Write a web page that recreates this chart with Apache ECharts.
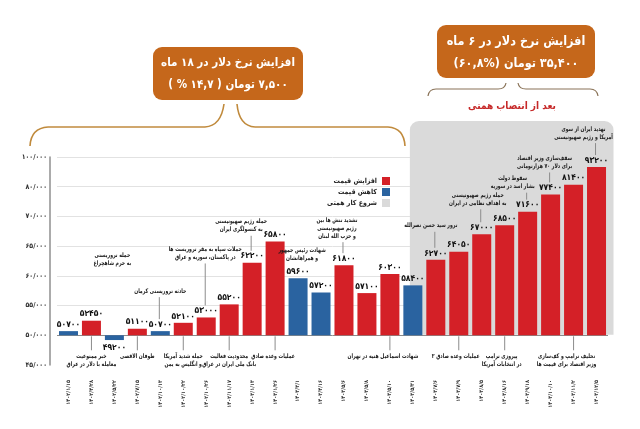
<!DOCTYPE html>
<html>
<head>
<meta charset="utf-8">
<script src="https://cdn.jsdelivr.net/npm/echarts@6/dist/echarts.min.js"></script>
<style>
html,body{margin:0;padding:0;background:#fff;}
#c{width:640px;height:429px;}
</style>
</head>
<body>
<div id="c"></div>
<script>
// ---------- data ----------
const dates = ['۱۴۰۲/۱/۱۵','۱۴۰۲/۴/۲۸','۱۴۰۲/۵/۲۲','۱۴۰۲/۷/۱۵','۱۴۰۲/۱۰/۱۳','۱۴۰۲/۱۰/۲۲','۱۴۰۲/۱۰/۲۶','۱۴۰۲/۱۱/۱۷','۱۴۰۳/۱/۱۳','۱۴۰۳/۱/۲۶','۱۴۰۳/۳/۱','۱۴۰۳/۴/۱۶','۱۴۰۳/۵/۶','۱۴۰۳/۵/۸','۱۴۰۳/۵/۱۰','۱۴۰۳/۵/۳۱','۱۴۰۳/۷/۶','۱۴۰۳/۷/۹','۱۴۰۳/۸/۵','۱۴۰۳/۸/۱۶','۱۴۰۳/۹/۱۸','۱۴۰۳/۱۰/۱۰','۱۴۰۳/۱۱/۲','۱۴۰۳/۱۲/۵'];
const rates = [50700,52450,49200,51100,50700,52100,53000,55200,62200,65800,59600,57200,61800,57100,60300,58400,62700,64050,67000,68500,71600,77400,81400,93200];
const trend = ['down','up','down','up','down','up','up','up','up','up','down','down','up','up','up','down','up','up','up','up','up','up','up','up'];
const yTickLabels = ['۴۵/۰۰۰','۵۰/۰۰۰','۵۵/۰۰۰','۶۰/۰۰۰','۶۵/۰۰۰','۷۰/۰۰۰','۸۰/۰۰۰','۱۰۰/۰۰۰'];
const legendNames = ['افزایش قیمت','کاهش قیمت','شروع کار همتی'];
const events = [
  [1,'خبر ممنوعیت\nمعامله با دلار در عراق','down'],
  [2,'حمله تروریستی\nبه حرم شاهچراغ','up'],
  [3,'طوفان الاقصی','down'],
  [4,'حادثه تروریستی کرمان','up'],
  [5,'حمله شدید آمریکا\nو انگلیس به یمن','down'],
  [6,'حملات سپاه به مقر تروریست ها\nدر پاکستان، سوریه و عراق','up'],
  [7,'محدودیت فعالیت\nبانک ملی ایران در عراق','down'],
  [8,'حمله رژیم صهیونیستی\nبه کنسولگری ایران','up'],
  [9,'عملیات وعده صادق','down'],
  [10,'شهادت رئیس جمهور\nو همراهانشان','up'],
  [12,'تشدید تنش ها بین\nرژیم صهیونیستی\nو حزب الله لبنان','up'],
  [14,'شهادت اسماعیل هنیه در تهران','down'],
  [16,'ترور سید حسن نصرالله','up'],
  [17,'عملیات وعده صادق ۲','down'],
  [18,'حمله رژیم صهیونیستی\nبه اهداف نظامی در ایران','up'],
  [19,'پیروزی ترامپ\nدر انتخابات آمریکا','down'],
  [20,'سقوط دولت\nبشار اسد در سوریه','up'],
  [21,'سقف‌سازی وزیر اقتصاد\nبرای دلار ۷۰ هزارتومانی','up'],
  [22,'تحلیف ترامپ و کف‌سازی\nوزیر اقتصاد برای قیمت ها','down'],
  [23,'تهدید ایران از سوی\nآمریکا و رژیم صهیونیستی','up']
];
const box1Lines = ['افزایش نرخ دلار در ۱۸ ماه','۷,۵۰۰ تومان ( ۱۴,۷ % )'];
const box2Lines = ['افزایش نرخ دلار در ۶ ماه','۳۵,۴۰۰ تومان (%۶۰,۸)'];
const panelTitle = 'بعد از انتصاب همتی';

// ---------- layout (not data) ----------
// per event: [lift above bar top (px), draw connector, text x shift]
const eventLayout = {
  2:[68,false,-2], 4:[36,true,0], 6:[56,true,-1], 8:[29,true,-11], 10:[16,false,4],
  12:[25,true,-7], 16:[30,true,-5], 18:[27,true,-4], 20:[21,true,-15], 21:[24,true,-6], 23:[26,true,-13],
  1:[0,true,0], 3:[0,true,0], 5:[0,true,0], 7:[0,true,0], 9:[0,true,-2], 14:[0,true,-7], 17:[0,true,-3], 19:[0,true,-3], 22:[0,true,-7]
};

const FONT = '"DejaVu Sans Condensed", "DejaVu Sans", sans-serif';
const upColor = '#d42027', downColor = '#2a63a0', panelColor = '#dadada', boxColor = '#c5671b';

const toFa = s => String(s).replace(/\d/g, d => '۰۱۲۳۴۵۶۷۸۹'[d]);
const rtl = s => s.split('\n').map(l => '\u202B' + l + '\u202C').join('\n');
// broken value axis: 45k..70k linear, 70k..80k and 80k..100k each squeezed into one tick step
function toAxis(v){
  if (v <= 70000) return v - 50000;
  if (v <= 80000) return 20000 + (v - 70000) / 2;
  return 25000 + (v - 80000) / 4;
}

const labelCfg = {
  show:true, position:'top', distance:2,
  fontFamily:FONT, fontWeight:'bold', fontSize:8.5, color:'#111',
  formatter: p => toFa(rates[p.dataIndex])
};

const chart = echarts.init(document.getElementById('c'), null, {renderer:'canvas'});
chart.setOption({
  backgroundColor:'#fff',
  animation:false,
  grid:{left:57, right:32, top:157, bottom:64},
  legend:{
    orient:'vertical', align:'right', right:250, top:177,
    itemWidth:8, itemHeight:8, itemGap:3, padding:0,
    textStyle:{fontFamily:FONT, fontWeight:'bold', fontSize:7, color:'#222'},
    data:[{name:legendNames[0],icon:'rect'},{name:legendNames[1],icon:'rect'},{name:legendNames[2],icon:'rect'}]
  },
  xAxis:{
    type:'category', data:dates,
    axisLine:{show:false}, axisTick:{show:false},
    axisLabel:{interval:0, rotate:90, margin:15, fontFamily:FONT, fontWeight:'bold', fontSize:5.5, color:'#333'}
  },
  yAxis:{
    type:'value', min:-5000, max:30000, interval:5000, offset:7,
    axisLine:{show:true, lineStyle:{color:'#8f8f8f', width:1.5}},
    axisTick:{show:false},
    axisLabel:{margin:3, fontFamily:FONT, fontWeight:'bold', fontSize:7, color:'#333',
      formatter: v => yTickLabels[Math.round((v + 5000) / 5000)]},
    splitLine:{show:true, lineStyle:{width:1, color:['rgba(0,0,0,0)','#8a8a8a','#e2e2e2','#e2e2e2','#e2e2e2','#e2e2e2','#e2e2e2','#e2e2e2']}}
  },
  series:[
    {name:legendNames[0], type:'bar', barWidth:19, barGap:'-100%',
     itemStyle:{color:upColor}, label:labelCfg,
     data: rates.map((v,i) => trend[i]==='up' ? toAxis(v) : '-')},
    {name:legendNames[1], type:'bar', barWidth:19, barGap:'-100%',
     itemStyle:{color:downColor}, label:labelCfg,
     data: rates.map((v,i) => trend[i]==='down'
        ? (v < 50000 ? {value:toAxis(v), label:{position:'bottom', distance:3}} : toAxis(v)) : '-')},
    {name:legendNames[2], type:'line', data:[], itemStyle:{color:panelColor}, lineStyle:{color:panelColor}}
  ]
});

// ---------- decorations & annotations positioned through the axes ----------
const px = i => chart.convertToPixel({xAxisIndex:0}, dates[i]);
const py = v => chart.convertToPixel({yAxisIndex:0}, toAxis(v));
const baseY = py(50000);
const g = [];

// Hemmati panel
const pl = px(15) - 3, pr = px(23) + 17;
g.push({type:'rect', z:1, shape:{x:pl, y:121, width:pr-pl, height:baseY-121-0.5, r:[9,9,0,0]}, style:{fill:panelColor}});

// annotations (condensed horizontally)
events.forEach(([i, txt, side]) => {
  const [lift, link, dx] = eventLayout[i];
  const cx = px(i);
  const style = {text:rtl(txt), x:0, y:0, fontFamily:FONT, fontWeight:'bold', fontSize:6.4, lineHeight:8, fill:'#1a1a1a', align:'center'};
  if (side === 'up') {
    const top = py(Math.max(rates[i], 50000));
    const tb = top - lift;
    g.push({type:'text', z:5, x:cx+dx, y:tb, scaleX:0.8, style:Object.assign({}, style, {verticalAlign:'bottom'})});
    if (link) g.push({type:'line', z:5, shape:{x1:cx-1, y1:tb+2, x2:cx-1, y2:top-12}, style:{stroke:'#8c8c8c', lineWidth:1}});
  } else {
    const tt = baseY + 17;
    g.push({type:'text', z:5, x:cx+dx, y:tt, scaleX:0.8, style:Object.assign({}, style, {verticalAlign:'top'})});
    if (link) g.push({type:'line', z:5, shape:{x1:cx, y1:baseY+1, x2:cx, y2:tt-2}, style:{stroke:'#8c8c8c', lineWidth:1}});
  }
});

// orange boxes
const boxText = (t, x, y, fs) => ({type:'text', z:6, style:{text:rtl(t), x:x, y:y, align:'center', verticalAlign:'middle', fontFamily:FONT, fontWeight:'bold', fontSize:fs, fill:'#fff'}});
g.push({type:'rect', z:5, shape:{x:153, y:47, width:150, height:53, r:9}, style:{fill:boxColor}});
g.push(boxText(box1Lines[0], 228, 63, 11.5));
g.push(boxText(box1Lines[1], 228, 85, 11.5));
g.push({type:'rect', z:5, shape:{x:437, y:25, width:158, height:53, r:9}, style:{fill:boxColor}});
g.push(boxText(box2Lines[0], 516, 42, 12.5));
g.push(boxText(box2Lines[1], 516, 64, 12.5));

// braces built from curves and lines
function halfBrace(pts, st){
  const [a,c1,b,d,c2,e] = pts;
  return [
    {type:'bezierCurve', z:5, shape:{x1:a[0],y1:a[1],cpx1:c1[0],cpy1:c1[1],x2:b[0],y2:b[1]}, style:st},
    {type:'line', z:5, shape:{x1:b[0],y1:b[1],x2:d[0],y2:d[1]}, style:st},
    {type:'bezierCurve', z:5, shape:{x1:d[0],y1:d[1],cpx1:c2[0],cpy1:c2[1],x2:e[0],y2:e[1]}, style:st}
  ];
}
const brace1 = {stroke:'#c08a3c', lineWidth:1.6, fill:null};
g.push(...halfBrace([[30,146],[31,128],[48,127],[205,127],[221,126],[224,104]], brace1));
g.push(...halfBrace([[237,104],[239,126],[255,127],[388,127],[404,128],[405,146]], brace1));
const brace2 = {stroke:'#8a7358', lineWidth:1.2, fill:null};
g.push(...halfBrace([[428,96],[429,89],[436,89],[498,89],[505,89],[506,83]], brace2));
g.push(...halfBrace([[518,83],[519,89],[526,89],[590,89],[597,89],[598,96]], brace2));
g.push({type:'text', z:6, style:{text:rtl(panelTitle), x:512, y:106, align:'center', verticalAlign:'middle', fontFamily:FONT, fontWeight:'bold', fontSize:10, fill:'#c62828'}});

chart.setOption({graphic:{elements:g}});
</script>
</body>
</html>
